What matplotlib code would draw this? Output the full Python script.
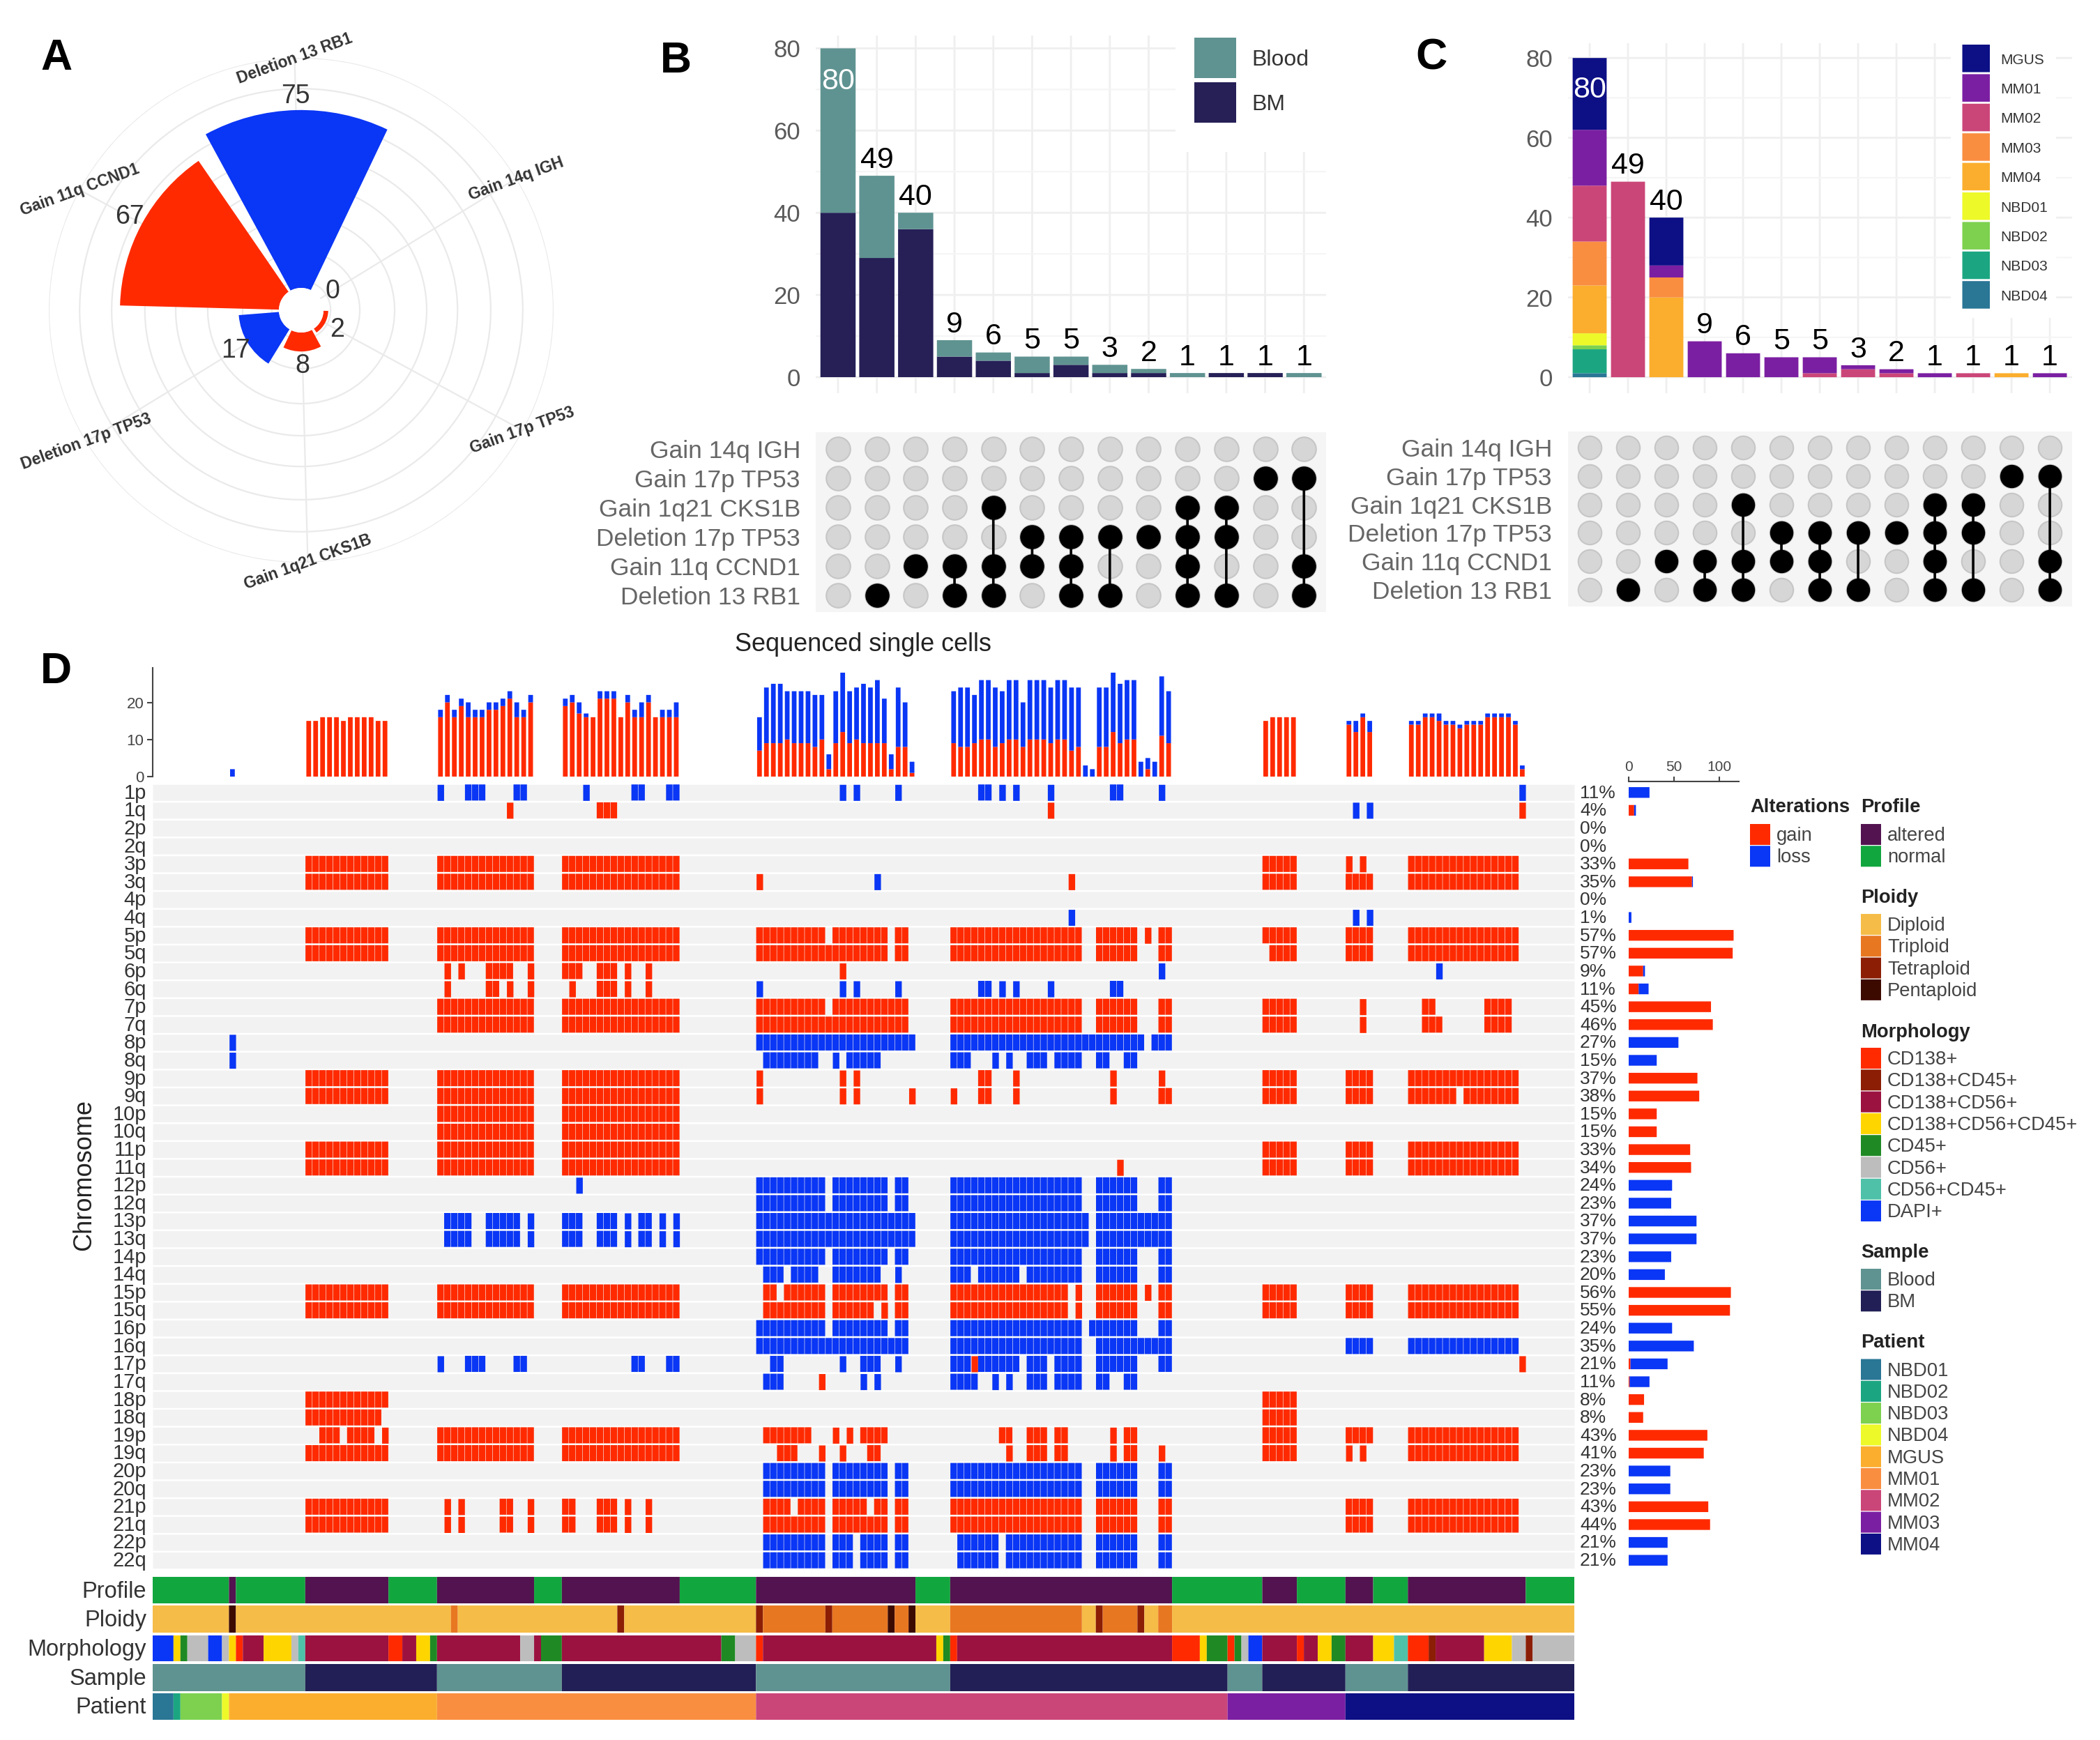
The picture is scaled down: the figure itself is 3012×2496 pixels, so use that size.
#!/usr/bin/python
import numpy as np
import matplotlib
matplotlib.use("Agg")
import matplotlib.pyplot as plt
from matplotlib.patches import Rectangle

plt.rcParams['font.family'] = ['Liberation Sans', 'DejaVu Sans']
plt.rcParams['path.snap'] = False

W, H = 3012, 2496
RED = '#FF2A00'
BLUE = '#0A36F5'
GRID = '#EFEFEF'

# panel A
polar_cats = ['Deletion 13 RB1', 'Gain 14q IGH', 'Gain 17p TP53', 'Gain 1q21 CKS1B', 'Deletion 17p TP53', 'Gain 11q CCND1']
polar_vals = [75, 0, 2, 8, 17, 67]
polar_cols = [BLUE, RED, RED, RED, BLUE, RED]
polar_grid = [3, 15.3, 30, 43.5, 56.5, 70.5, 84, 97]

# panels B and C
set_names = ['Gain 14q IGH', 'Gain 17p TP53', 'Gain 1q21 CKS1B', 'Deletion 17p TP53', 'Gain 11q CCND1', 'Deletion 13 RB1']
set_totals = [80, 49, 40, 9, 6, 5, 5, 3, 2, 1, 1, 1, 1]
set_members = [[], [5], [4], [4, 5], [2, 4, 5], [3, 4], [3, 4, 5], [3, 5], [3], [2, 3, 4, 5], [2, 3, 5], [1], [1, 4, 5]]
b_bm = [40, 29, 36, 5, 4, 1, 3, 1, 1, 0, 1, 1, 0]
b_blood = [40, 20, 4, 4, 2, 4, 2, 2, 1, 1, 0, 0, 1]

c_names = ['MGUS', 'MM01', 'MM02', 'MM03', 'MM04', 'NBD01', 'NBD02', 'NBD03', 'NBD04']
c_cols = ['#0D0F85', '#7B1FA2', '#CB4678', '#F98E41', '#FBAE2D', '#EDF928', '#7DD14F', '#1BA681', '#2A7695']
c_mgus = [18, 0, 12, 0, 0, 0, 0, 0, 0, 0, 0, 0, 0]
c_mm01 = [14, 0, 3, 9, 6, 5, 4, 1, 1, 1, 0, 0, 1]
c_mm02 = [14, 49, 0, 0, 0, 0, 1, 2, 1, 0, 1, 0, 0]
c_mm03 = [11, 0, 5, 0, 0, 0, 0, 0, 0, 0, 0, 0, 0]
c_mm04 = [12, 0, 20, 0, 0, 0, 0, 0, 0, 0, 0, 1, 0]
c_nbd01 = [3, 0, 0, 0, 0, 0, 0, 0, 0, 0, 0, 0, 0]
c_nbd02 = [1, 0, 0, 0, 0, 0, 0, 0, 0, 0, 0, 0, 0]
c_nbd03 = [6, 0, 0, 0, 0, 0, 0, 0, 0, 0, 0, 0, 0]
c_nbd04 = [1, 0, 0, 0, 0, 0, 0, 0, 0, 0, 0, 0, 0]

# panel D, cells are (first, last) column runs
n_cells = 205
chrom = ['1p', '1q', '2p', '2q', '3p', '3q', '4p', '4q', '5p', '5q', '6p', '6q', '7p', '7q', '8p', '8q',
         '9p', '9q', '10p', '10q', '11p', '11q', '12p', '12q', '13p', '13q', '14p', '14q', '15p', '15q',
         '16p', '16q', '17p', '17q', '18p', '18q', '19p', '19q', '20p', '20q', '21p', '21q', '22p', '22q']
percent = [11, 4, 0, 0, 33, 35, 0, 1, 57, 57, 9, 11, 45, 46, 27, 15, 37, 38, 15, 15, 33, 34, 24, 23, 37, 37,
           23, 20, 56, 55, 24, 35, 21, 11, 8, 8, 43, 41, 23, 23, 43, 44, 21, 21]

A = (22, 33)
B = (41, 54)
C = (59, 75)
T1 = (160, 164)
T2 = (172, 175)
T3 = (181, 196)

gain_runs = [
    [],
    [(51, 51), (64, 66), (129, 129), (197, 197)],
    [],
    [],
    [A, B, C, T1, (172, 172), (174, 174), T3],
    [A, B, C, (87, 87), (132, 132), T1, T2, T3],
    [],
    [],
    [A, B, C, (87, 96), (98, 105), (107, 108), (115, 133), (136, 141), (143, 143), (145, 146), T1, T2, T3],
    [A, B, C, (87, 105), (107, 108), (115, 133), (136, 141), (145, 146), (161, 164), T2, T3],
    [(42, 42), (44, 44), (48, 51), (54, 54), (59, 61), (64, 66), (68, 68), (71, 71), (99, 99)],
    [(42, 42), (48, 49), (51, 51), (54, 54), (60, 60), (64, 66), (68, 68), (71, 71)],
    [B, C, (87, 96), (98, 108), (115, 133), (136, 141), (145, 146), T1, (174, 174), (183, 184), (192, 195)],
    [B, C, (87, 108), (115, 133), (136, 141), (145, 146), T1, (174, 174), (183, 185), (192, 195)],
    [],
    [],
    [A, B, C, (87, 87), (99, 99), (101, 101), (119, 120), (124, 124), (138, 138), (145, 145), T1, T2, T3],
    [A, B, C, (87, 87), (99, 99), (101, 101), (109, 109), (115, 115), (119, 120), (124, 124), (138, 138), (145, 146),
     T1, T2, (181, 187), (189, 196)],
    [B, C],
    [B, C],
    [A, B, C, T1, T2, T3],
    [A, B, C, (139, 139), T1, T2, T3],
    [],
    [],
    [],
    [],
    [],
    [],
    [A, B, C, (88, 89), (91, 96), (98, 105), (107, 108), (115, 131), (133, 133), (136, 141), (143, 143), (145, 146),
     T1, T2, T3],
    [A, B, C, (88, 96), (98, 103), (105, 105), (107, 108), (115, 131), (133, 133), (136, 141), (145, 146), T1, T2, T3],
    [],
    [],
    [(118, 118), (197, 197)],
    [(96, 96)],
    [A, T1],
    [(22, 32), T1],
    [(24, 26), (28, 31), (33, 33), B, C, (88, 94), (98, 98), (100, 100), (102, 105), (122, 123), (126, 128), (130, 131),
     (138, 138), (140, 141), T1, T2, T3],
    [A, B, C, (90, 92), (96, 96), (99, 99), (103, 104), (123, 123), (126, 128), (130, 131), (138, 138), (140, 141),
     (145, 145), T1, (172, 172), (174, 174), T3],
    [],
    [],
    [A, (42, 42), (44, 44), (50, 51), (54, 54), (59, 60), (64, 66), (68, 68), (71, 71), (88, 91), (93, 96), (98, 102),
     (104, 105), (107, 108), (115, 133), (136, 141), (145, 146), T2, T3],
    [A, (42, 42), (44, 44), (50, 51), (54, 54), (59, 60), (64, 66), (68, 68), (71, 71), (88, 96), (98, 105), (107, 108),
     (115, 133), (136, 141), (145, 146), T2, T3],
    [],
    [],
]

loss_runs = [
    [(41, 41), (45, 47), (52, 53), (62, 62), (69, 70), (74, 75), (99, 99), (101, 101), (107, 107), (119, 120), (122, 122),
     (124, 124), (129, 129), (138, 139), (145, 145), (197, 197)],
    [(173, 173), (175, 175)],
    [],
    [],
    [],
    [(104, 104)],
    [],
    [(132, 132), (173, 173), (175, 175)],
    [],
    [],
    [(145, 145), (185, 185)],
    [(87, 87), (99, 99), (101, 101), (107, 107), (119, 120), (122, 122), (124, 124), (129, 129), (138, 139)],
    [],
    [],
    [(11, 11), (87, 109), (115, 142), (144, 146)],
    [(11, 11), (88, 95), (98, 98), (100, 104), (115, 117), (121, 121), (123, 123), (126, 128), (130, 133), (136, 137),
     (140, 141)],
    [],
    [],
    [],
    [],
    [],
    [],
    [(61, 61), (87, 96), (98, 105), (107, 108), (115, 133), (136, 141), (145, 146)],
    [(87, 96), (98, 105), (107, 108), (115, 133), (136, 141), (145, 146)],
    [(42, 45), (48, 52), (54, 54), (59, 61), (64, 66), (68, 68), (70, 71), (73, 73), (75, 75), (87, 109), (115, 134),
     (136, 146)],
    [(42, 45), (48, 52), (54, 54), (59, 61), (64, 66), (68, 68), (70, 71), (73, 73), (75, 75), (87, 109), (115, 134),
     (136, 146)],
    [(87, 96), (98, 105), (107, 108), (115, 133), (136, 141), (145, 146)],
    [(88, 90), (92, 95), (98, 104), (107, 107), (115, 117), (119, 124), (126, 133), (136, 141), (145, 146)],
    [],
    [],
    [(87, 96), (98, 105), (107, 108), (115, 133), (135, 141), (145, 146)],
    [(87, 108), (115, 133), (136, 146), T2, T3],
    [(41, 41), (45, 47), (52, 53), (69, 70), (74, 75), (89, 90), (99, 99), (102, 104), (107, 107), (115, 117), (119, 124),
     (126, 128), (130, 133), (136, 141), (145, 146)],
    [(88, 90), (102, 102), (104, 104), (115, 118), (121, 121), (123, 123), (126, 128), (130, 133), (136, 137), (140, 141)],
    [],
    [],
    [],
    [],
    [(88, 96), (98, 105), (107, 108), (115, 133), (136, 141), (145, 146)],
    [(88, 96), (98, 105), (107, 108), (115, 133), (136, 141), (145, 146)],
    [],
    [],
    [(88, 96), (98, 100), (102, 105), (107, 108), (116, 121), (123, 133), (136, 141), (145, 146)],
    [(88, 96), (98, 100), (102, 105), (107, 108), (116, 121), (123, 133), (136, 141), (145, 146)],
]

# annotation tracks, (category, stop column)
profile_names = ['altered', 'normal']
profile_cols = ['#531350', '#12A63F']
profile_track = [(1, 11), (0, 12), (1, 22), (0, 34), (1, 41), (0, 55), (1, 59), (0, 76), (1, 87), (0, 110), (1, 115),
                 (0, 147), (1, 160), (0, 165), (1, 172), (0, 176), (1, 181), (0, 198), (1, 205)]

ploidy_names = ['Diploid', 'Triploid', 'Tetraploid', 'Pentaploid']
ploidy_cols = ['#F5BC47', '#E87722', '#8B1E05', '#3D0A00']
ploidy_track = [(0, 11), (3, 12), (0, 43), (1, 44), (0, 67), (2, 68), (0, 87), (2, 88), (1, 97), (2, 98), (1, 106),
                (3, 107), (1, 109), (3, 110), (0, 115), (1, 134), (0, 136), (2, 137), (1, 142), (2, 143), (0, 145),
                (1, 147), (0, 205)]

morph_names = ['CD138+', 'CD138+CD45+', 'CD138+CD56+', 'CD138+CD56+CD45+', 'CD45+', 'CD56+', 'CD56+CD45+', 'DAPI+']
morph_cols = ['#FF2A00', '#8B1E05', '#9B1240', '#FFD500', '#1F8A24', '#BDBDBD', '#4FC1A9', '#0A36F5']
morph_track = [(7, 3), (3, 4), (4, 5), (5, 8), (7, 10), (5, 11), (3, 12), (0, 13), (2, 16), (3, 20), (5, 21), (6, 22),
               (2, 34), (0, 36), (2, 38), (3, 40), (4, 41), (2, 53), (5, 55), (2, 56), (4, 59), (2, 82), (4, 84), (5, 87),
               (0, 88), (2, 113), (3, 114), (4, 115), (0, 116), (2, 147), (0, 151), (3, 152), (4, 155), (0, 156), (4, 157),
               (5, 158), (7, 160), (2, 165), (0, 166), (2, 168), (3, 170), (4, 172), (2, 176), (3, 179), (6, 181), (0, 184),
               (1, 185), (2, 192), (3, 196), (5, 198), (1, 199), (5, 205)]

sample_names = ['Blood', 'BM']
sample_cols = ['#5F9391', '#211F55']
sample_track = [(0, 22), (1, 41), (0, 59), (1, 87), (0, 115), (1, 155), (0, 160), (1, 172), (0, 181), (1, 205)]

patient_names = ['NBD01', 'NBD02', 'NBD03', 'NBD04', 'MGUS', 'MM01', 'MM02', 'MM03', 'MM04']
patient_cols = ['#2A7695', '#1BA681', '#7DD14F', '#EDF928', '#FBAE2D', '#F98E41', '#CB4678', '#7B1FA2', '#0D0F85']
patient_track = [(0, 3), (1, 4), (2, 10), (3, 11), (4, 41), (5, 87), (6, 155), (7, 172), (8, 205)]


def add_ax(left, top, right, bottom, **kw):
    # axes from pixel edges
    return fig.add_axes([left / W, 1 - bottom / H, (right - left) / W, (bottom - top) / H], **kw)


def upset_panel(bar_box, dot_box, xlim, ylim, dot_ylim, width, stacks, colors, label_x, dot_size):
    ax = add_ax(*bar_box)
    ax.set_xlim(*xlim)
    ax.set_ylim(*ylim)
    for s in ax.spines.values():
        s.set_visible(False)
    ax.set_axisbelow(True)
    ax.set_xticks(range(13))
    ax.set_xticklabels([])
    ax.set_yticks([0, 20, 40, 60, 80])
    ax.set_yticks([10, 30, 50, 70], minor=True)
    ax.grid(True, which='major', color=GRID, lw=2)
    ax.grid(True, which='minor', axis='y', color='#F5F5F5', lw=1.5)
    ax.tick_params(axis='both', which='both', length=0)
    ax.tick_params(axis='y', labelsize=25, labelcolor='#5A5A5A', pad=16)
    x = np.arange(13)
    bottom = np.zeros(13)
    for vals, col in zip(stacks, colors):
        ax.bar(x, vals, width=width, bottom=bottom, color=col, lw=0, zorder=3)
        bottom += np.array(vals)
    for i, t in enumerate(set_totals):
        if i == 0:
            ax.text(i, 72, str(t), ha='center', va='center', color='white', fontsize=31, zorder=5)
        else:
            ax.text(i, t + 0.4, str(t), ha='center', va='bottom', color='black', fontsize=31, zorder=5)

    dax = add_ax(*dot_box)
    dax.set_xlim(*xlim)
    dax.set_ylim(*dot_ylim)
    dax.set_facecolor('#F5F5F5')
    for s in dax.spines.values():
        s.set_visible(False)
    dax.set_xticks([])
    dax.set_yticks(range(6))
    dax.set_yticklabels(set_names)
    dax.tick_params(axis='y', length=0, labelsize=25.5, labelcolor='#666666',
                    pad=(bar_box[0] - label_x) * 0.72)
    for i, members in enumerate(set_members):
        dax.scatter([i] * 6, range(6), s=dot_size, color='#D6D6D6', edgecolor='#C6C6C6', lw=1.5, zorder=2)
        if members:
            dax.plot([i, i], [min(members), max(members)], color='black', lw=2.6, zorder=3)
            dax.scatter([i] * len(members), members, s=dot_size, color='black', lw=0, zorder=4)


fig = plt.figure(figsize=(W / 100, H / 100), dpi=100)

# A: polar bars
pax = add_ax(70, 83, 794, 807, projection='polar')
pax.set_theta_direction(-1)
pax.set_theta_offset(np.pi / 2 + np.radians(1.5))
theta = np.radians(np.arange(6) * 60)
pax.set_axisbelow(True)
pax.bar(theta, polar_vals, width=np.radians(54), color=polar_cols, lw=0, zorder=3)
pax.set_rorigin(-9.4)
pax.set_ylim(0, 97)
pax.set_xticks(theta)
pax.set_xticklabels([])
pax.set_yticks(polar_grid)
pax.set_yticklabels([])
pax.grid(True, color='#EAEAEA', lw=1.6)
pax.tick_params(axis='x', length=0)
pax.spines['polar'].set_visible(False)
# draw() turns the inner spine back on, so blank its line instead
pax.spines['inner'].set_edgecolor('none')
for t, v, name in zip(theta, polar_vals, polar_cats):
    pax.text(t, v + 6, str(v), ha='center', va='center', fontsize=27, color='#333333', zorder=5)
    pax.text(t, 96.8, name, ha='center', va='center', rotation=20, fontsize=16.5, fontweight='bold',
             color='#333333', zorder=5, clip_on=False)

# B
upset_panel((1170, 50.5, 1902, 564), (1170, 620, 1902, 878), (-0.574, 12.57), (-3.9, 83.2), (5.57, -0.571),
            0.907, [b_bm, b_blood], ['#262057', '#5F9391'], 1148, 620)
# C
c_stack = [c_nbd04, c_nbd03, c_nbd02, c_nbd01, c_mm04, c_mm03, c_mm02, c_mm01, c_mgus]
upset_panel((2249, 62, 2972, 564), (2249, 619, 2972, 870), (-0.564, 12.58), (-4.0, 83.7), (5.59, -0.564),
            0.887, c_stack, c_cols[::-1], 2226, 580)

# D: heatmap
hax = add_ax(219, 1124, 2258, 2251)
hax.set_xlim(0, n_cells)
hax.set_ylim(44, 0)
hax.axis('off')
gain = np.zeros((44, n_cells))
loss = np.zeros((44, n_cells))
for r in range(44):
    hax.broken_barh([(0, n_cells)], (r + 0.05, 0.9), color='#F2F2F2', lw=0)
    for first, last in gain_runs[r]:
        gain[r, first:last + 1] = 1
        hax.broken_barh([(c + 0.03, 0.94) for c in range(first, last + 1)], (r + 0.05, 0.9), color=RED, lw=0)
    for first, last in loss_runs[r]:
        loss[r, first:last + 1] = 1
        hax.broken_barh([(c + 0.03, 0.94) for c in range(first, last + 1)], (r + 0.05, 0.9), color=BLUE, lw=0)

# top bars come from the cells
tax = add_ax(219, 958, 2258, 1114)
cols = np.arange(n_cells) + 0.5
gain_top = gain.sum(axis=0)
loss_top = loss.sum(axis=0)
tax.bar(cols, gain_top, width=0.68, color=RED, lw=0)
tax.bar(cols, loss_top, width=0.68, bottom=gain_top, color=BLUE, lw=0)
tax.set_xlim(0, n_cells)
tax.set_ylim(0, 29.3)
for s in ['top', 'right', 'bottom']:
    tax.spines[s].set_visible(False)
tax.spines['left'].set_linewidth(1.5)
tax.spines['left'].set_color('#444444')
tax.set_xticks([])
tax.set_yticks([0, 10, 20])
tax.tick_params(axis='y', labelsize=16, labelcolor='#444444', color='#444444', width=1.5, length=6, pad=3)

# right bars
rax = add_ax(2336, 1121, 2494, 2251)
rows = np.arange(44) + 0.5
gain_row = gain.sum(axis=1)
loss_row = loss.sum(axis=1)
rax.barh(rows, gain_row, height=0.6, color=RED, lw=0)
rax.barh(rows, loss_row, height=0.6, left=gain_row, color=BLUE, lw=0)
rax.set_xlim(0, 121.8)
rax.set_ylim(44, -0.117)
for s in ['left', 'right', 'bottom']:
    rax.spines[s].set_visible(False)
rax.spines['top'].set_linewidth(1.5)
rax.spines['top'].set_color('#444444')
rax.xaxis.tick_top()
rax.set_xticks([0, 50, 100])
rax.set_yticks([])
rax.tick_params(axis='x', labelsize=15, labelcolor='#444444', color='#444444', width=1.5, length=5, pad=3)

# annotation tracks
track_rows = [('Profile', profile_track, profile_cols, 2262, 2300),
              ('Ploidy', ploidy_track, ploidy_cols, 2303, 2342),
              ('Morphology', morph_track, morph_cols, 2346, 2383),
              ('Sample', sample_track, sample_cols, 2387, 2426),
              ('Patient', patient_track, patient_cols, 2429, 2467)]
for label, track, colors, top, bottom in track_rows:
    ax = add_ax(219, top, 2258, bottom)
    ax.set_xlim(0, n_cells)
    ax.set_ylim(0, 1)
    ax.axis('off')
    start = 0
    for cat, stop in track:
        ax.barh(0.5, stop - start, left=start, height=1, color=colors[cat], lw=0)
        start = stop

# overlay in pixels for free text and legends
ov = fig.add_axes([0, 0, 1, 1], zorder=10)
ov.set_xlim(0, W)
ov.set_ylim(H, 0)
ov.axis('off')
ov.patch.set_alpha(0)

for letter, x, y in [('A', 81, 83), ('B', 969, 87), ('C', 2053, 83), ('D', 80, 964)]:
    ov.text(x, y, letter, ha='center', va='center', fontsize=45, fontweight='bold', color='black')

ov.text(1238, 925, 'Sequenced single cells', ha='center', va='center', fontsize=26, color='#222222')
ov.text(121, 1686, 'Chromosome', ha='center', va='center', rotation=90, fontsize=26, color='#222222')

for i, name in enumerate(chrom):
    y = 1124 + 25.61 * (i + 0.5) + 1
    ov.text(210, y, name, ha='right', va='center', fontsize=21, color='#333333')
    ov.text(2266, y, '%d%%' % percent[i], ha='left', va='center', fontsize=19, color='#333333')

for label, track, colors, top, bottom in track_rows:
    ov.text(210, (top + bottom) / 2 + 2, label, ha='right', va='center', fontsize=23.5, color='#333333')

# B legend, white box hides the grid behind it
ov.add_patch(Rectangle((1686, 40), 230, 178, color='white', lw=0))
for name, col, top, bottom in [('Blood', '#5F9391', 54, 112), ('BM', '#262057', 118, 176)]:
    ov.add_patch(Rectangle((1713, top), 60, bottom - top, color=col, lw=0))
    ov.text(1795, (top + bottom) / 2 + 3, name, ha='left', va='center', fontsize=23, color='#333333')

# C legend
ov.add_patch(Rectangle((2798, 50), 151, 406, color='white', lw=0))
for i, (name, col) in enumerate(zip(c_names, c_cols)):
    top = 64 + 42.4 * i
    ov.add_patch(Rectangle((2814.5, top), 39.5, 39.5, color=col, lw=0))
    ov.text(2869, top + 22, name, ha='left', va='center', fontsize=15, color='#333333')


def legend_block(x, title, title_y, names, colors, first_y):
    ov.text(x, title_y + 2, title, ha='left', va='center', fontsize=19.7, fontweight='bold', color='#222222')
    for i, (name, col) in enumerate(zip(names, colors)):
        y = first_y + 31.3 * i
        ov.add_patch(Rectangle((x, y - 15), 29, 30, color=col, lw=0))
        ov.text(x + 38, y + 2, name, ha='left', va='center', fontsize=19.7, color='#444444')


legend_block(2510, 'Alterations', 1156, ['gain', 'loss'], [RED, BLUE], 1197)
legend_block(2669, 'Profile', 1156, profile_names, profile_cols, 1197)
legend_block(2669, 'Ploidy', 1286, ploidy_names, ploidy_cols, 1326)
legend_block(2669, 'Morphology', 1479, morph_names, morph_cols, 1518)
legend_block(2669, 'Sample', 1795, sample_names, sample_cols, 1835)
legend_block(2669, 'Patient', 1924, patient_names, patient_cols, 1964.5)

fig.savefig('out.png', dpi=100)
